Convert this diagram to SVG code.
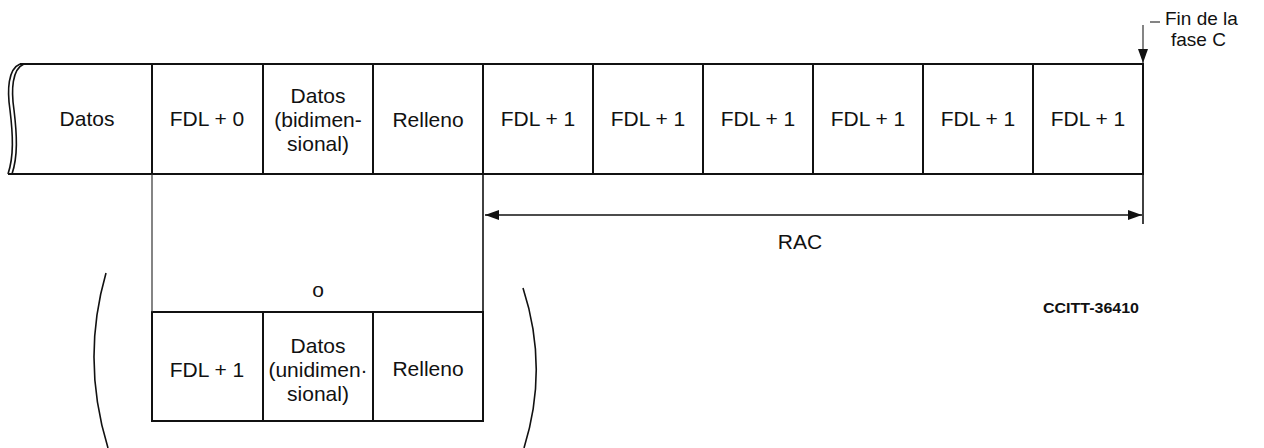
<svg xmlns="http://www.w3.org/2000/svg" width="1264" height="448" viewBox="0 0 1264 448">
<defs>
<style>
text{font-family:"Liberation Sans",Arial,sans-serif;font-size:21px;fill:#111;text-anchor:middle}
.box{fill:none;stroke:#111;stroke-width:2}
.ln{fill:none;stroke:#111;stroke-width:1.6}
.thin{fill:none;stroke:#333;stroke-width:1.2}
.code{font-size:15px;font-weight:bold}
.lbl{text-anchor:start;font-size:19px}
</style>
<marker id="ah" viewBox="0 0 14 10" refX="14" refY="5" markerWidth="14" markerHeight="10" markerUnits="userSpaceOnUse" orient="auto-start-reverse">
<path d="M0 0 L14 5 L0 10 Z" fill="#111"/>
</marker>
</defs>
<rect width="1264" height="448" fill="#fff"/>

<g id="n-datos">
<path class="box" d="M20 64 H152 V174 H8"/>
<path class="ln" d="M20 64 C8 69 7 90 10 110 C13 135 14 156 8 174"/>
<path class="ln" d="M24 64 C12 69 11 90 14 110 C17 135 18 156 12 174"/>
<text x="87" y="126">Datos</text>
</g>
<g id="n-fdl0">
<rect class="box" x="152" y="64" width="111" height="110"/>
<text x="207" y="126">FDL + 0</text>
</g>
<g id="n-datos2d">
<rect class="box" x="263" y="64" width="110" height="110"/>
<text x="318" y="103">Datos</text>
<text x="318" y="127">(bidimen-</text>
<text x="318" y="151">sional)</text>
</g>
<g id="n-relleno1">
<rect class="box" x="373" y="64" width="110" height="110"/>
<text x="428" y="127">Relleno</text>
</g>
<g id="n-fdl1a"><rect class="box" x="483" y="64" width="110" height="110"/><text x="538" y="126">FDL + 1</text></g>
<g id="n-fdl1b"><rect class="box" x="593" y="64" width="110" height="110"/><text x="648" y="126">FDL + 1</text></g>
<g id="n-fdl1c"><rect class="box" x="703" y="64" width="110" height="110"/><text x="758" y="126">FDL + 1</text></g>
<g id="n-fdl1d"><rect class="box" x="813" y="64" width="110" height="110"/><text x="868" y="126">FDL + 1</text></g>
<g id="n-fdl1e"><rect class="box" x="923" y="64" width="110" height="110"/><text x="978" y="126">FDL + 1</text></g>
<g id="n-fdl1f"><rect class="box" x="1033" y="64" width="110" height="110"/><text x="1088" y="126">FDL + 1</text></g>

<g id="n-alt-fdl1">
<rect class="box" x="152" y="312" width="111" height="109"/>
<text x="207" y="377">FDL + 1</text>
</g>
<g id="n-alt-datos1d">
<rect class="box" x="263" y="312" width="110" height="109"/>
<text x="318" y="353">Datos</text>
<text x="318" y="377">(unidimen·</text>
<text x="318" y="401">sional)</text>
</g>
<g id="n-alt-relleno">
<rect class="box" x="373" y="312" width="110" height="109"/>
<text x="428" y="376">Relleno</text>
</g>

<g id="connectors">
<line class="thin" x1="152" y1="174" x2="152" y2="312"/>
<line class="ln" x1="483" y1="174" x2="483" y2="312"/>
<line class="ln" x1="1143" y1="174" x2="1143" y2="224"/>
<line class="ln" x1="485" y1="215" x2="1142" y2="215" marker-start="url(#ah)" marker-end="url(#ah)"/>
<line class="thin" x1="1150" y1="22" x2="1160" y2="22"/>
<line class="thin" x1="1143" y1="25" x2="1143" y2="63" marker-end="url(#ah)"/>
<path class="ln" d="M106 273 Q81 360 108 448"/>
<path class="ln" d="M523 288 Q549 368 524 448"/>
</g>

<g id="labels">
<text x="318" y="297">o</text>
<text x="800" y="249">RAC</text>
<text class="lbl" x="1165" y="25">Fin de la</text>
<text class="lbl" x="1171" y="46">fase C</text>
<text class="code" x="1091" y="313" textLength="96" lengthAdjust="spacingAndGlyphs">CCITT-36410</text>
</g>
</svg>
